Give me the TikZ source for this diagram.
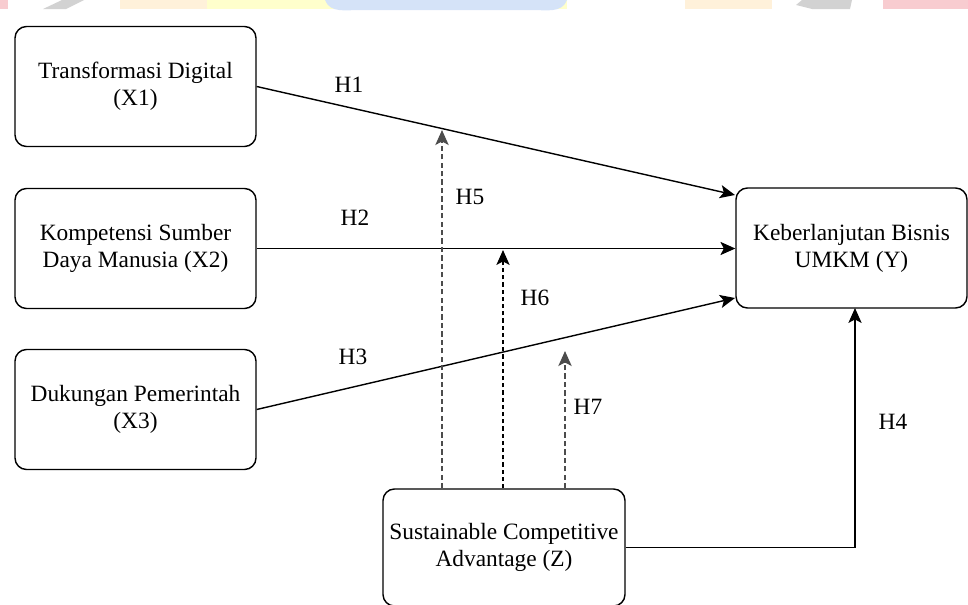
\documentclass[tikz,border=0pt]{standalone}
\usepackage{fontspec}
\setmainfont{Liberation Serif}
\usetikzlibrary{arrows.meta}

\definecolor{bandorange}{HTML}{FFF1DA}
\definecolor{bandyellow}{HTML}{FFFFCC}
\definecolor{bandblue}{HTML}{D5E3F8}
\definecolor{bandpink}{HTML}{F8CCD0}
\definecolor{bandgrey}{HTML}{D2D2D2}

\begin{document}
\begin{tikzpicture}[x=0.02cm, y=-0.02cm, line width=0.8pt,
				box/.style = {draw, rounded corners=6.5pt, minimum width=4.82cm, minimum height=2.4cm, align=center, inner sep=0pt, font=\fontsize{13.3}{15.5}\selectfont},
				hyp/.style = {inner sep=0pt, font=\fontsize{13.3}{15.5}\selectfont},
				link/.style = {-{Stealth[length=8.5pt, width=7.5pt, inset=2pt]}},
				modline/.style = {link, dash pattern=on 3pt off 1.8pt, draw=black!70, line width=1.3pt}]
				
				\useasboundingbox (0,0) rectangle (968,605);
				
				\fill[bandpink] (0,0) rectangle (8,9);
				\fill[bandgrey] (43,9) -- (62,0) -- (84,0) -- (66,9) -- cycle;
				\fill[bandorange] (120,0) rectangle (207,9);
				\fill[bandyellow] (207,0) rectangle (567,9);
				\fill[bandblue] (325,0) to[out=-70, in=180] (360,10) -- (532,10) to[out=0, in=-110] (567,0) -- cycle;
				\fill[bandorange] (685,0) rectangle (772,9);
				\fill[bandgrey] (796,5) -- (802,0) -- (852,0) -- (850,9) -- (812,9) -- cycle;
				\fill[bandpink] (883,0) rectangle (968,9);
				
				\node[box] (x1) at (135.5, 86.5) {Transformasi Digital\\(X1)};
				\node[box] (x2) at (135.5, 248.5) {Kompetensi Sumber\\Daya Manusia (X2)};
				\node[box] (x3) at (135.5, 409.5) {Dukungan Pemerintah\\(X3)};
				\node[box, minimum width=4.62cm] (y) at (851.5, 248) {Keberlanjutan Bisnis\\UMKM (Y)};
				\node[box, minimum width=4.84cm, minimum height=2.34cm] (z) at (504, 547.5) {Sustainable Competitive\\Advantage (Z)};
				
				\coordinate (y1) at (735, 195);
				\coordinate (y3) at (735, 298);
				\coordinate (y4) at (855, 308);
				\coordinate (h5) at (442, 130);
				\coordinate (h6) at (503, 250);
				\coordinate (h7) at (565, 351);
				
				\draw[link] (x1.east) to (y1);
				\draw[link] (x2.east) to (x2.east -| y.west);
				\draw[link] (x3.east) to (y3);
				\draw[link] (z.east) -| (y4);
				\draw[modline] (z.north -| h5) to (h5);
				\draw[modline, draw=black, line width=0.9pt, dash pattern=on 2.4pt off 1.7pt] (z.north -| h6) to (h6);
				\draw[modline] (z.north -| h7) to (h7);
				
				\node[hyp] (l1) at (349, 85) {H1};
				\node[hyp] (l2) at (355, 218) {H2};
				\node[hyp] (l3) at (353, 357) {H3};
				\node[hyp] (l4) at (893, 422) {H4};
				\node[hyp] (l5) at (470, 197) {H5};
				\node[hyp] (l6) at (535, 298) {H6};
				\node[hyp] (l7) at (588, 407) {H7};
				
			\end{tikzpicture}
\end{document}
